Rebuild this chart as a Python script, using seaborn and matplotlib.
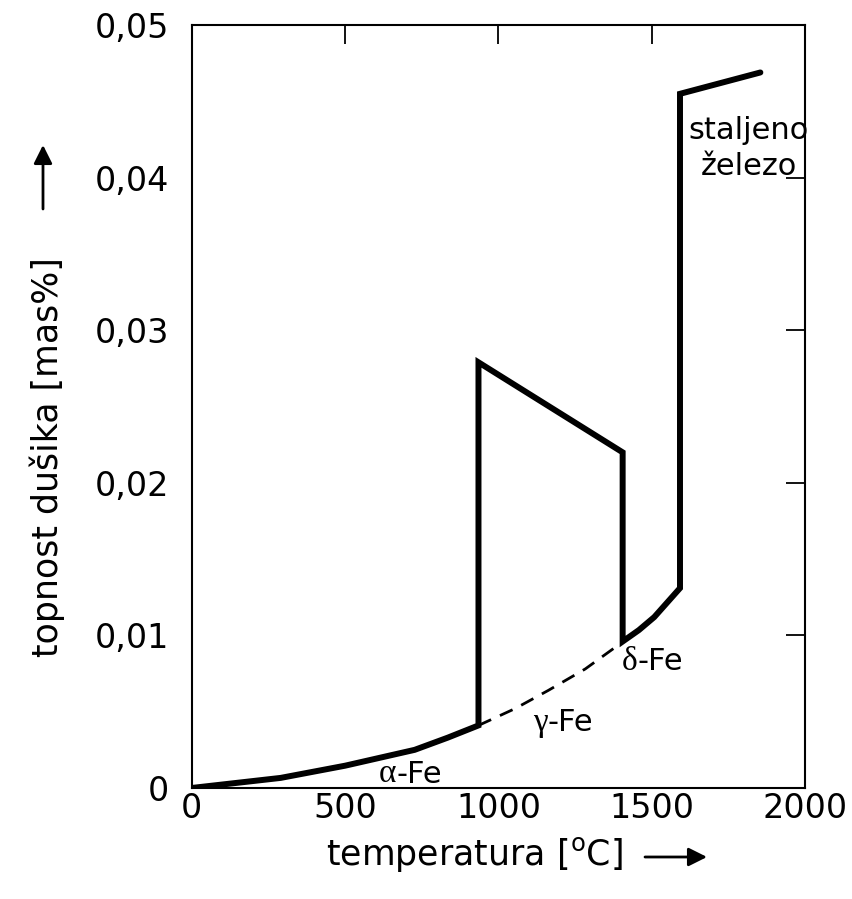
import matplotlib
matplotlib.use("Agg")
import matplotlib.pyplot as plt
import seaborn as sns
import pandas as pd

# solid curve (alpha -> gamma -> delta -> liquid), temperature in degC, solubility in mas%
solid_T = [0, 290, 500, 727, 835, 935, 935, 1405, 1405, 1458, 1508, 1592, 1592, 1854]
solid_C = [0, 0.00066, 0.00146, 0.0025, 0.0033, 0.0041, 0.0279, 0.0220, 0.0096,
           0.01035, 0.0112, 0.0131, 0.0455, 0.0469]
# dashed extrapolation of alpha-Fe through gamma range
dash_T = [935, 1054, 1163, 1283, 1400]
dash_C = [0.0041, 0.0052, 0.0064, 0.0078, 0.0095]

x_ticks = [0, 500, 1000, 1500, 2000]
x_labels = ["0", "500", "1000", "1500", "2000"]
y_ticks = [0, 0.01, 0.02, 0.03, 0.04, 0.05]
y_labels = ["0", "0,01", "0,02", "0,03", "0,04", "0,05"]

sns.set_style("white")
plt.rcParams["font.family"] = ["DejaVu Sans"]
plt.rcParams["text.color"] = "black"
plt.rcParams["axes.labelcolor"] = "black"

W, H = 852, 899
fig = plt.figure(figsize=(W / 100, H / 100), dpi=100)
ax = fig.add_axes([0.225, 0.1235, 0.72, 0.8485])

df_solid = pd.DataFrame({"T": solid_T, "C": solid_C})
df_dash = pd.DataFrame({"T": dash_T, "C": dash_C})

sns.lineplot(data=df_solid, x="T", y="C", sort=False, estimator=None, ax=ax,
             color="black", linewidth=4.3, solid_joinstyle="miter")
sns.lineplot(data=df_dash, x="T", y="C", sort=False, estimator=None, ax=ax,
             color="black", linewidth=2.0, dashes=False, linestyle=(0, (5, 3.5)))

ax.set_xlim(0, 2000)
ax.set_ylim(0, 0.05)
ax.set_xticks(x_ticks)
ax.set_xticklabels(x_labels)
ax.set_yticks(y_ticks)
ax.set_yticklabels(y_labels)
ax.tick_params(direction="in", length=14, width=1.3, top=True, right=True,
               labelsize=24, colors="black")
ax.tick_params(axis="x", pad=3)
ax.tick_params(axis="y", pad=16)
for s in ax.spines.values():
    s.set_linewidth(1.5)
    s.set_color("black")
ax.set_xlabel("")
ax.set_ylabel("")

# axis titles with arrows
fig.text(474 / W, 1 - 855 / H, "temperatura [$\\mathregular{^o}$C]", fontsize=25,
         ha="center", va="center")
fig.text(47 / W, 1 - 457 / H, "topnost du\u0161ika [mas%]", fontsize=25,
         rotation=90, ha="center", va="center")
arrow = dict(arrowstyle="-|>", lw=2, color="black", mutation_scale=28, shrinkA=0, shrinkB=0)
fig.add_artist(matplotlib.patches.FancyArrowPatch((645 / W, 1 - 857 / H), (707 / W, 1 - 857 / H),
                                                   transform=fig.transFigure, **arrow))
fig.add_artist(matplotlib.patches.FancyArrowPatch((43 / W, 1 - 209 / H), (43 / W, 1 - 145 / H),
                                                   transform=fig.transFigure, **arrow))

fs = 22
def phase(x, y, g):
    ax.text(x, y, g, family="Liberation Serif", fontsize=fs + 2, ha="right", va="center")
    ax.text(x, y, "-Fe", fontsize=fs, ha="left", va="center")

phase(668, 0.0009, "\u03b1")
phase(1160, 0.0043, "\u03b3")
phase(1452, 0.0083, "\u03b4")
ax.text(1816, 0.0419, "staljeno\n\u017eelezo", fontsize=fs, ha="center", va="center",
        linespacing=1.3)

fig.savefig("out.png", dpi=100)
